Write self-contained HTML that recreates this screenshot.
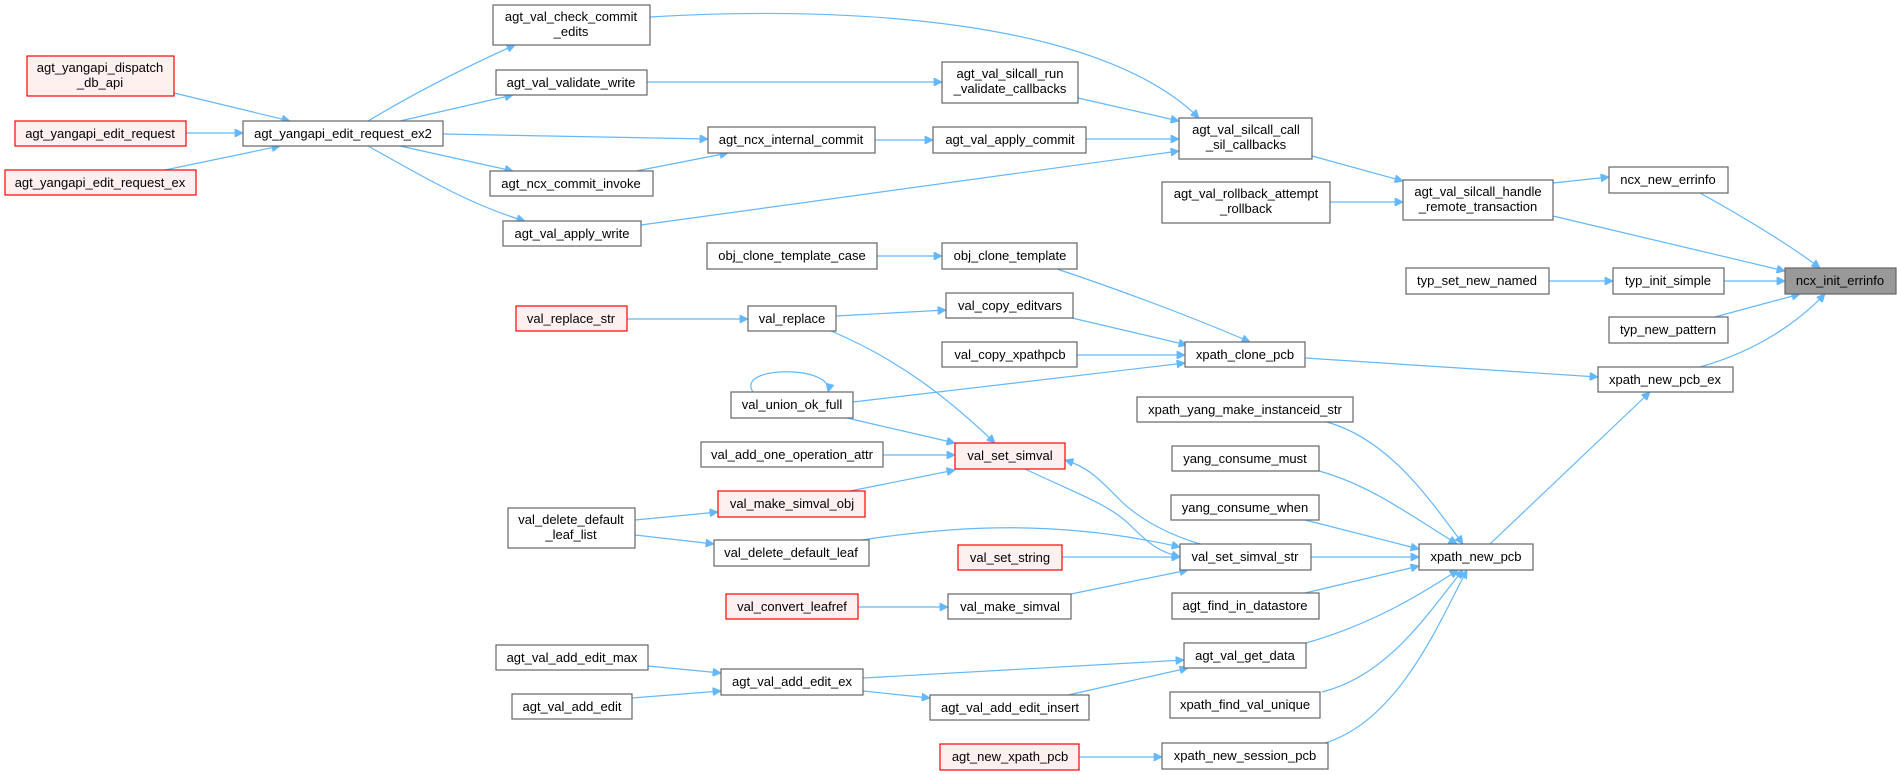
<!DOCTYPE html>
<html><head><meta charset="utf-8"><style>
html,body{margin:0;padding:0;background:#fff;}
svg{display:block;}
text{font-family:"Liberation Sans",Arial,sans-serif;font-size:13px;fill:#000;text-anchor:middle;}
.n{fill:#fff;stroke:#666;stroke-width:1.2;}
.r{fill:#fff0f0;stroke:#ff0000;stroke-width:1.2;}
.g{fill:#999;stroke:#666;stroke-width:1.2;}
.e{fill:none;stroke:#63b8ff;stroke-width:1.2;marker-end:url(#a);}
</style></head><body>
<svg width="1897" height="775" viewBox="0 0 1897 775" xmlns="http://www.w3.org/2000/svg">
<defs><marker id="a" viewBox="0 0 10 10" refX="10" refY="5" markerWidth="10" markerHeight="8" markerUnits="userSpaceOnUse" orient="auto"><path d="M0,0 L10,5 L0,10 z" fill="#63b8ff" stroke="#63b8ff"/></marker></defs>

<!-- edges -->
<path class="e" d="M174,93 L290,121"/>
<path class="e" d="M186,133 L243,133"/>
<path class="e" d="M165,170 L280,146"/>
<path class="e" d="M368,121 C420,90 470,65 515,45"/>
<path class="e" d="M400,121 L513,95"/>
<path class="e" d="M443,134 L708,139"/>
<path class="e" d="M400,146 L513,171"/>
<path class="e" d="M368,146 C420,175 470,205 525,221"/>
<path class="e" d="M636,171 L728,153"/>
<path class="e" d="M650,17 C850,5 1100,20 1199,118"/>
<path class="e" d="M647,82 L942,82"/>
<path class="e" d="M1078,98 L1179,121"/>
<path class="e" d="M875,140 L933,140"/>
<path class="e" d="M1086,139 L1179,139"/>
<path class="e" d="M641,225 L1179,151"/>
<path class="e" d="M1312,156 L1403,181"/>
<path class="e" d="M1330,202 L1403,202"/>
<path class="e" d="M1553,183 L1609,177"/>
<path class="e" d="M1700,193 C1740,215 1790,245 1820,268"/>
<path class="e" d="M1553,216 L1785,271"/>
<path class="e" d="M1549,281 L1613,281"/>
<path class="e" d="M1724,281 L1785,281"/>
<path class="e" d="M1715,317 L1800,294"/>
<path class="e" d="M1700,367 C1760,350 1800,320 1825,294"/>
<path class="e" d="M877,256 L942,256"/>
<path class="e" d="M1057,269 C1120,290 1200,320 1250,342"/>
<path class="e" d="M1072,318 L1187,345"/>
<path class="e" d="M1077,355 L1185,355"/>
<path class="e" d="M853,402 L1185,363"/>
<path class="e" d="M627,319 L748,319"/>
<path class="e" d="M836,316 L946,310"/>
<path class="e" d="M831,331 C900,360 950,400 995,443"/>
<path class="e" d="M753,392 C735,365 835,365 828,392"/>
<path class="e" d="M847,418 L955,443"/>
<path class="e" d="M883,455 L955,455"/>
<path class="e" d="M850,491 L955,470"/>
<path class="e" d="M635,520 L718,512"/>
<path class="e" d="M635,535 L714,544"/>
<path class="e" d="M862,540 C960,525 1060,520 1180,547"/>
<path class="e" d="M1025,469 C1080,495 1110,505 1130,525 C1150,545 1160,552 1180,557"/>
<path class="e" d="M1200,544 C1170,535 1140,520 1120,500 C1100,480 1090,468 1065,460"/>
<path class="e" d="M1062,557 L1180,557"/>
<path class="e" d="M1071,594 L1188,570"/>
<path class="e" d="M858,607 L948,607"/>
<path class="e" d="M648,666 L721,673"/>
<path class="e" d="M632,698 L721,691"/>
<path class="e" d="M863,678 L1184,660"/>
<path class="e" d="M863,691 L930,698"/>
<path class="e" d="M1068,695 L1188,668"/>
<path class="e" d="M1079,757 L1162,757"/>
<path class="e" d="M1327,422 C1390,440 1430,500 1463,544"/>
<path class="e" d="M1319,471 C1370,485 1410,515 1457,544"/>
<path class="e" d="M1305,520 L1419,549"/>
<path class="e" d="M1311,557 L1419,557"/>
<path class="e" d="M1305,593 L1419,566"/>
<path class="e" d="M1306,643 C1370,625 1420,595 1458,570"/>
<path class="e" d="M1322,692 C1390,675 1430,610 1463,570"/>
<path class="e" d="M1325,743 C1400,720 1440,620 1467,570"/>
<path class="e" d="M1490,544 L1650,392"/>
<path class="e" d="M1305,358 L1598,377"/>

<!-- nodes -->
<rect class="r" x="27" y="56" width="147" height="40"/><text x="100" y="72">agt_yangapi_dispatch</text><text x="100" y="87">_db_api</text>
<rect class="r" x="15" y="121" width="171" height="25"/><text x="100" y="138">agt_yangapi_edit_request</text>
<rect class="r" x="5" y="170" width="191" height="25"/><text x="100" y="187">agt_yangapi_edit_request_ex</text>
<rect class="n" x="243" y="121" width="200" height="25"/><text x="343" y="138">agt_yangapi_edit_request_ex2</text>
<rect class="n" x="493" y="5" width="157" height="40"/><text x="571" y="21">agt_val_check_commit</text><text x="571" y="36">_edits</text>
<rect class="n" x="496" y="70" width="151" height="25"/><text x="571" y="87">agt_val_validate_write</text>
<rect class="n" x="490" y="171" width="163" height="25"/><text x="571" y="188">agt_ncx_commit_invoke</text>
<rect class="n" x="503" y="221" width="138" height="25"/><text x="572" y="238">agt_val_apply_write</text>
<rect class="r" x="516" y="306" width="111" height="25"/><text x="571" y="323">val_replace_str</text>
<rect class="n" x="508" y="508" width="127" height="40"/><text x="571" y="524">val_delete_default</text><text x="571" y="539">_leaf_list</text>
<rect class="n" x="496" y="645" width="152" height="25"/><text x="572" y="662">agt_val_add_edit_max</text>
<rect class="n" x="512" y="694" width="120" height="25"/><text x="572" y="711">agt_val_add_edit</text>

<rect class="n" x="942" y="62" width="136" height="41"/><text x="1010" y="78">agt_val_silcall_run</text><text x="1010" y="93">_validate_callbacks</text>
<rect class="n" x="708" y="127" width="167" height="26"/><text x="791" y="144">agt_ncx_internal_commit</text>
<rect class="n" x="933" y="127" width="153" height="26"/><text x="1010" y="144">agt_val_apply_commit</text>
<rect class="n" x="707" y="243" width="170" height="26"/><text x="792" y="260">obj_clone_template_case</text>
<rect class="n" x="942" y="243" width="135" height="26"/><text x="1010" y="260">obj_clone_template</text>
<rect class="n" x="946" y="293" width="127" height="25"/><text x="1010" y="310">val_copy_editvars</text>
<rect class="n" x="748" y="306" width="88" height="25"/><text x="792" y="323">val_replace</text>
<rect class="n" x="942" y="342" width="135" height="25"/><text x="1010" y="359">val_copy_xpathpcb</text>
<rect class="n" x="731" y="392" width="122" height="26"/><text x="792" y="409">val_union_ok_full</text>
<rect class="r" x="955" y="443" width="110" height="26"/><text x="1010" y="460">val_set_simval</text>
<rect class="n" x="701" y="442" width="182" height="25"/><text x="792" y="459">val_add_one_operation_attr</text>
<rect class="r" x="718" y="491" width="147" height="26"/><text x="792" y="508">val_make_simval_obj</text>
<rect class="n" x="714" y="540" width="155" height="26"/><text x="791" y="557">val_delete_default_leaf</text>
<rect class="r" x="958" y="545" width="104" height="25"/><text x="1010" y="562">val_set_string</text>
<rect class="r" x="726" y="594" width="132" height="25"/><text x="792" y="611">val_convert_leafref</text>
<rect class="n" x="948" y="594" width="123" height="25"/><text x="1010" y="611">val_make_simval</text>
<rect class="n" x="721" y="669" width="142" height="26"/><text x="792" y="686">agt_val_add_edit_ex</text>
<rect class="n" x="930" y="695" width="159" height="25"/><text x="1010" y="712">agt_val_add_edit_insert</text>
<rect class="r" x="940" y="744" width="139" height="26"/><text x="1010" y="761">agt_new_xpath_pcb</text>

<rect class="n" x="1179" y="118" width="133" height="41"/><text x="1246" y="134">agt_val_silcall_call</text><text x="1246" y="149">_sil_callbacks</text>
<rect class="n" x="1162" y="182" width="168" height="41"/><text x="1246" y="198">agt_val_rollback_attempt</text><text x="1246" y="213">_rollback</text>
<rect class="n" x="1185" y="342" width="120" height="25"/><text x="1245" y="359">xpath_clone_pcb</text>
<rect class="n" x="1137" y="397" width="216" height="25"/><text x="1245" y="414">xpath_yang_make_instanceid_str</text>
<rect class="n" x="1172" y="446" width="147" height="25"/><text x="1245" y="463">yang_consume_must</text>
<rect class="n" x="1171" y="495" width="148" height="25"/><text x="1245" y="512">yang_consume_when</text>
<rect class="n" x="1180" y="544" width="131" height="26"/><text x="1245" y="561">val_set_simval_str</text>
<rect class="n" x="1172" y="593" width="147" height="26"/><text x="1245" y="610">agt_find_in_datastore</text>
<rect class="n" x="1184" y="643" width="122" height="25"/><text x="1245" y="660">agt_val_get_data</text>
<rect class="n" x="1170" y="692" width="150" height="26"/><text x="1245" y="709">xpath_find_val_unique</text>
<rect class="n" x="1162" y="743" width="166" height="26"/><text x="1245" y="760">xpath_new_session_pcb</text>

<rect class="n" x="1403" y="180" width="150" height="40"/><text x="1478" y="196">agt_val_silcall_handle</text><text x="1478" y="211">_remote_transaction</text>
<rect class="n" x="1406" y="268" width="143" height="26"/><text x="1477" y="285">typ_set_new_named</text>
<rect class="n" x="1419" y="544" width="114" height="26"/><text x="1476" y="561">xpath_new_pcb</text>

<rect class="n" x="1609" y="167" width="119" height="26"/><text x="1668" y="184">ncx_new_errinfo</text>
<rect class="n" x="1613" y="268" width="111" height="26"/><text x="1668" y="285">typ_init_simple</text>
<rect class="n" x="1609" y="317" width="119" height="26"/><text x="1668" y="334">typ_new_pattern</text>
<rect class="n" x="1598" y="367" width="135" height="25"/><text x="1665" y="384">xpath_new_pcb_ex</text>
<rect class="g" x="1785" y="268" width="111" height="26"/><text x="1840" y="285">ncx_init_errinfo</text>
</svg>
</body></html>
